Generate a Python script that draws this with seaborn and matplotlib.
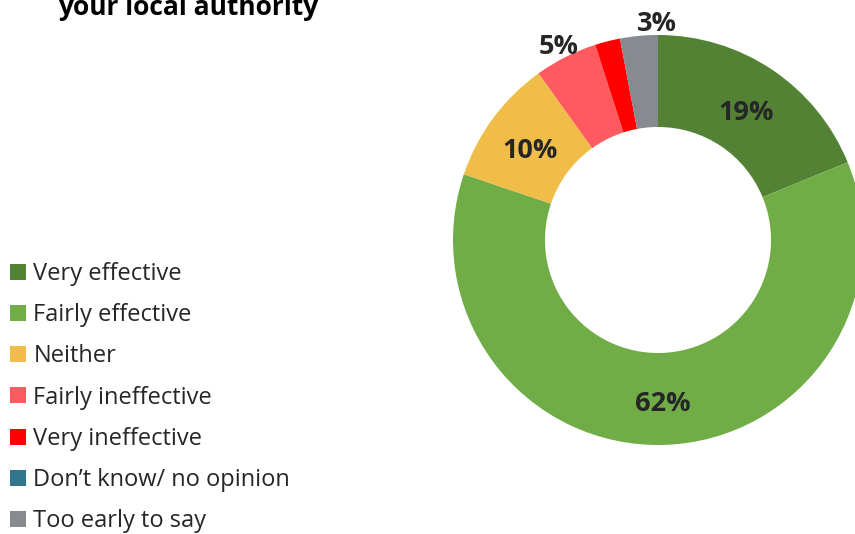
import matplotlib
matplotlib.use("Agg")
import matplotlib.pyplot as plt
import numpy as np
import seaborn as sns
from matplotlib.patches import Patch

sns.set_theme(style="white")
plt.rcParams["font.family"] = ["Open Sans", "DejaVu Sans"]

# Survey responses: effectiveness of the local authority
categories = [
    "Very effective",
    "Fairly effective",
    "Neither",
    "Fairly ineffective",
    "Very ineffective",
    "Don\u2019t know/ no opinion",
    "Too early to say",
]
shares = [19, 62, 10, 5, 2, 0, 3]
labels = ["19%", "62%", "10%", "5%", "", "", "3%"]
colors = sns.color_palette(
    ["#548235", "#70AD47", "#F0BE48", "#FF5A5F", "#FF0000", "#31768A", "#878A8E"]
)

W, H = 855, 534
fig = plt.figure(figsize=(W / 100, H / 100), dpi=100)

# donut centred at (658, 240) px with outer radius 205 px
cx, cy, R = 658, 240, 205
ax = fig.add_axes([(cx - R) / W, (H - cy - R) / H, 2 * R / W, 2 * R / H])
wedges, _ = ax.pie(
    shares,
    colors=colors,
    startangle=90,
    counterclock=False,
    radius=1.0,
    wedgeprops=dict(width=1 - 113 / 205, linewidth=0),
)
ax.set_xlim(-1, 1)
ax.set_ylim(-1, 1)
ax.set_aspect("equal")
ax.axis("off")

# percentage labels: inside the ring for large slices, outside for small ones
total = sum(shares)
start = 90.0
for lab, v in zip(labels, shares):
    ang = start - 360 * v / total / 2
    start -= 360 * v / total
    if not lab:
        continue
    if v >= 8:
        r, nudge = 0.775, 0.0
    else:
        # small slices: label sits just outside the ring, the last one nudged
        # toward the top so the two outside labels don't crowd each other
        r, nudge = 1.08, (-5.0 if lab == "3%" else 0.0)
    a = np.radians(ang + nudge)
    ax.text(r * np.cos(a), r * np.sin(a) - 0.025, lab, ha="center",
            va="center", fontsize=19.5, fontweight="bold", color="#262626",
            clip_on=False)

fig.text(58 / W, 1 - 15 / H, "your local authority", ha="left",
         va="baseline", fontsize=19, fontweight="bold", color="black")

handles = [Patch(facecolor=c, edgecolor="none") for c in colors]
fig.legend(
    handles, categories,
    loc="upper left", bbox_to_anchor=(10 / W, 1 - 262 / H),
    frameon=False, fontsize=17, labelcolor="#262626",
    handlelength=0.66, handleheight=0.66, handletextpad=0.33,
    labelspacing=0.73, borderpad=0, borderaxespad=0,
)

fig.savefig("out.png", dpi=100)
